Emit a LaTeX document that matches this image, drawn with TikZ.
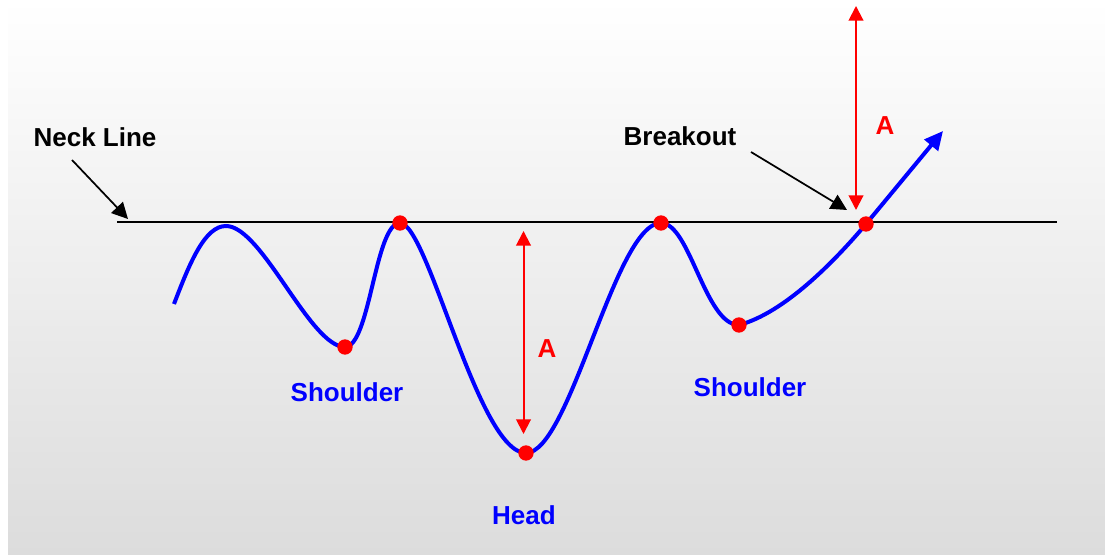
\documentclass[tikz,border=0pt]{standalone}
\usepackage{fontspec}
\setmainfont{Liberation Sans}
\usetikzlibrary{arrows.meta}
\definecolor{bggray}{RGB}{220,220,220}
\begin{document}
\begin{tikzpicture}[x=0.75pt,y=-0.75pt,
  lbl/.style={font=\fontsize{19.5}{23}\selectfont\bfseries, inner sep=0pt},
  blklbl/.style={lbl,text=black},
  blulbl/.style={lbl,text=blue},
  redlbl/.style={lbl,text=red},
  dot/.style={circle,fill=red,minimum size=11.5pt,inner sep=0pt},
  curve/.style={draw=blue,line width=3pt},
  redarrow/.style={draw=red,line width=1.5pt,{Triangle[length=11pt,width=11pt]}-{Triangle[length=11pt,width=11pt]}},
  blkarrow/.style={draw=black,line width=1.3pt,-{Triangle[length=12pt,width=12pt]}},
  neckline/.style={draw=black,line width=1.5pt}]
\useasboundingbox (0,0) rectangle (1105,555);
\fill[white] (0,0) rectangle (1105,555);
\shade[top color=white,bottom color=bggray] (8,0) rectangle (1105,555);
% key coordinates
\coordinate (nl) at (117,222);
\coordinate (nr) at (1057,222);
\coordinate (st) at (174,304);
\coordinate (p1) at (226,226);
\coordinate (s1) at (345,347);
\coordinate (p2) at (400,223);
\coordinate (hd) at (526,453);
\coordinate (p3) at (661,223);
\coordinate (s2) at (739,325);
\coordinate (bo) at (866,224);
\coordinate (te) at (943,131);
% neck line
\draw[neckline] (nl) -- (nr);
% curve
\draw[curve,-{Triangle[length=14pt,width=13pt]}] (st)
  .. controls (190,262) and (205,226) .. (p1)
  .. controls (262,226) and (310,347) .. (s1)
  .. controls (370,347) and (375,223) .. (p2)
  .. controls (428,223) and (478,453) .. (hd)
  .. controls (570,453) and (615,223) .. (p3)
  .. controls (690,223) and (705,325) .. (s2)
  .. controls (784,313) and (834,262) .. (bo)
  -- (te);
% red measuring arrows
\coordinate (a1t) at (523.5,231);
\coordinate (a1b) at (523.5,434);
\coordinate (a2t) at (856,6);
\coordinate (a2b) at (856,210);
\draw[redarrow] (a1t) -- (a1b);
\draw[redarrow] (a2t) -- (a2b);
% dots
\node[dot] (ds1) at (s1) {};
\node[dot] (dp2) at (p2) {};
\node[dot] (dhd) at (hd) {};
\node[dot] (dp3) at (p3) {};
\node[dot] (ds2) at (s2) {};
\node[dot] (dbo) at (bo) {};
% labels
\node[blklbl] (neck) at (95,137) {Neck Line};
\node[blklbl] (brk) at (680,136) {Breakout};
\node[blulbl] (sh1) at (347,392) {Shoulder};
\node[blulbl] (sh2) at (750,387) {Shoulder};
\node[blulbl] (head) at (524,515) {Head};
\node[redlbl] (A1) at (547,349) {A};
\node[redlbl] (A2) at (885,126) {A};
% pointer arrows
\coordinate (nt) at (72,160);
\coordinate (nh) at (128,219);
\coordinate (bt) at (751,152);
\coordinate (bh) at (847,210);
\draw[blkarrow] (nt) -- (nh);
\draw[blkarrow] (bt) -- (bh);
\end{tikzpicture}
\end{document}
